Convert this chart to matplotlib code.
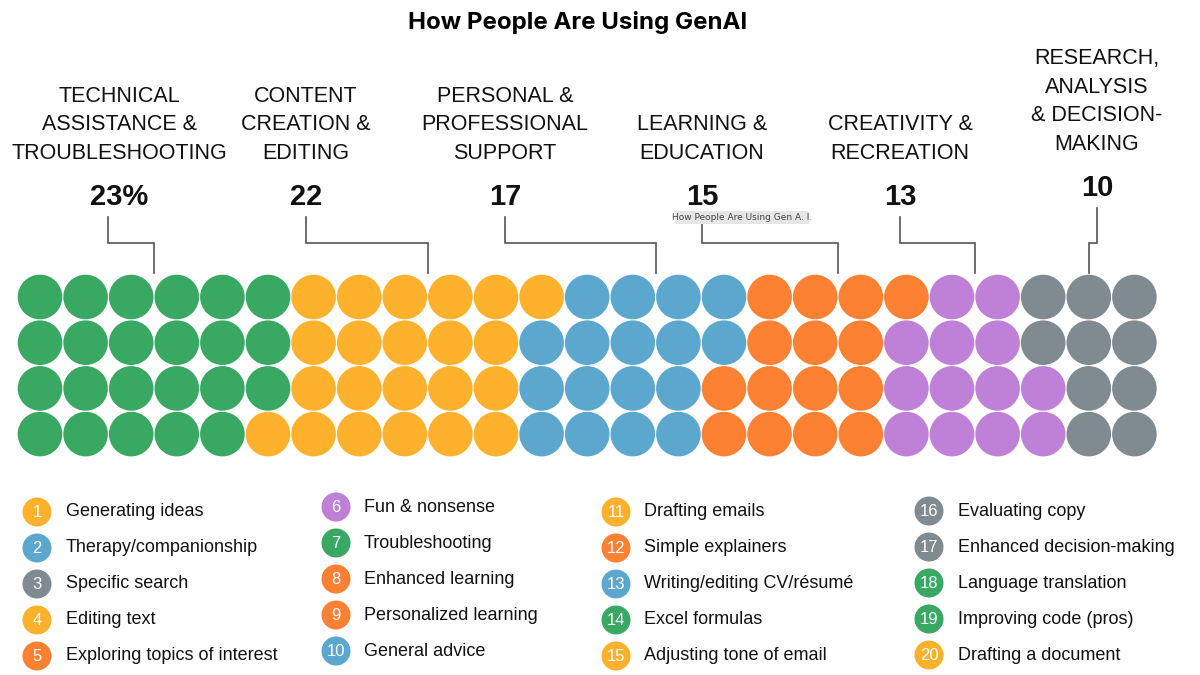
import matplotlib
matplotlib.use("Agg")
import matplotlib.pyplot as plt
from matplotlib.patches import Circle, FancyBboxPatch

# %%
# Data: share of use cases per category (percent, 100 dots)
categories = [
    "TECHNICAL\nASSISTANCE &\nTROUBLESHOOTING",
    "CONTENT\nCREATION &\nEDITING",
    "PERSONAL &\nPROFESSIONAL\nSUPPORT",
    "LEARNING &\nEDUCATION",
    "CREATIVITY &\nRECREATION",
    "RESEARCH,\nANALYSIS\n& DECISION-\nMAKING",
]
shares = [23, 22, 17, 15, 13, 10]
share_labels = ["23%", "22", "17", "15", "13", "10"]
cat_colors = ["#38a862", "#fdb12d", "#5ca7cd", "#fd8133", "#bf80d7", "#7f8b90"]

use_cases = [
    "Generating ideas", "Therapy/companionship", "Specific search", "Editing text",
    "Exploring topics of interest", "Fun & nonsense", "Troubleshooting",
    "Enhanced learning", "Personalized learning", "General advice",
    "Drafting emails", "Simple explainers", "Writing/editing CV/résumé",
    "Excel formulas", "Adjusting tone of email", "Evaluating copy",
    "Enhanced decision-making", "Language translation", "Improving code (pros)",
    "Drafting a document",
]
# category index of each use case (drives the badge colour)
use_case_cat = [1, 2, 5, 1, 3, 4, 0, 3, 3, 2, 1, 3, 2, 0, 1, 5, 5, 0, 0, 1]

# %%
# Layout (pixel space, figure is 1200x675)
n_rows, n_cols = 4, 25
x0, dx = 40, 45.6
y0, dy = 297, 45.7
radius = 22.3

head_x = [119, 306, 505, 702, 900, 1097]
lead_x = [108, 306, 505, 702, 900, 1097]
pointer_col = [2.5, 8.5, 13.5, 17.5, 20.5, 23]

# condensed face: Liberation Sans Narrow registers under the "Liberation Sans" family
narrow = dict(family=["Liberation Sans", "DejaVu Sans"], fontstretch="condensed")

fig = plt.figure(figsize=(12, 6.75), dpi=100)
ax = fig.add_axes([0, 0, 1, 1])
ax.set_xlim(0, 1200)
ax.set_ylim(675, 0)
ax.axis("off")

# %%
# Waffle grid: last category is right-aligned, the rest fill column by column, top-down
grid = {}
for j in range(shares[-1]):
    grid[(n_cols - 1 - j // n_rows, j % n_rows)] = len(shares) - 1
free = [(c, r) for c in range(n_cols) for r in range(n_rows) if (c, r) not in grid]
k = 0
for cat, n in enumerate(shares[:-1]):
    for _ in range(n):
        grid[free[k]] = cat
        k += 1

for (c, r), cat in grid.items():
    ax.add_patch(Circle((x0 + c * dx, y0 + r * dy), radius,
                        color=cat_colors[cat], lw=0))

# %%
# Category headers, numbers and leader lines
for i, (name, lab) in enumerate(zip(categories, share_labels)):
    last = name.count("\n") == 3
    shift = -9 if last else 0
    ax.text(head_x[i], 164 + shift, name, ha="center", va="bottom",
            fontsize=15.5, linespacing=1.48, color="#111111", **narrow)
    ax.text(head_x[i], 197 + shift, lab, ha="center", va="center",
            fontsize=21, fontweight="bold", color="#111111", **narrow)
    px = x0 + pointer_col[i] * dx
    ax.plot([lead_x[i], lead_x[i], px, px], [217 + shift, 243, 243, 273],
            color="#555555", lw=1.2, solid_joinstyle="miter")

# tooltip overlay seen in the original screenshot
ax.add_patch(FancyBboxPatch((675, 211), 134, 13, boxstyle="square,pad=0",
                            facecolor="#e6e6e6", edgecolor="none", zorder=5))
ax.text(742, 217.5, "How People Are Using Gen A. I.", ha="center", va="center",
        fontsize=6.5, color="#444444", zorder=6)

# %%
# Title
ax.text(578, 23, "How People Are Using GenAI", ha="center", va="center",
        fontsize=17.3, fontweight="bold", family=["Inter", "DejaVu Sans"])

# %%
# Numbered legend, 4 columns x 5 rows
leg_cx = [37, 336, 616, 929]
leg_tx = [66, 364, 644, 958]
leg_y = [512, 507, 512, 511]
for i, (name, cat) in enumerate(zip(use_cases, use_case_cat)):
    col, row = divmod(i, 5)
    y = leg_y[col] + row * 36
    ax.add_patch(Circle((leg_cx[col], y), 14.5, color=cat_colors[cat], lw=0))
    ax.text(leg_cx[col], y + 0.5, str(i + 1), ha="center", va="center",
            fontsize=12, color="white", **narrow)
    ax.text(leg_tx[col], y, name, ha="left", va="center",
            fontsize=13, color="#111111", **narrow)

fig.savefig("out.png", dpi=100, facecolor="white")
